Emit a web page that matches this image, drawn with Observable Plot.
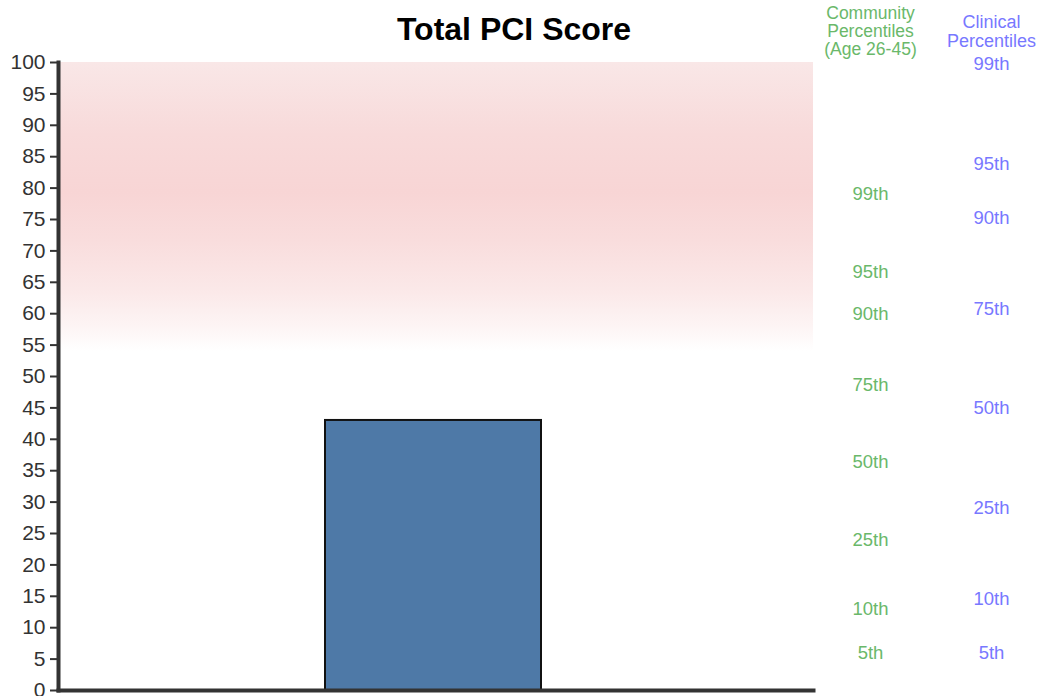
<!DOCTYPE html>
<html>
<head>
<meta charset="utf-8">
<script src="https://cdn.jsdelivr.net/npm/d3@7"></script>
<script src="https://cdn.jsdelivr.net/npm/@observablehq/plot@0.6"></script>
<style>
  html, body { margin: 0; padding: 0; background: #fff; }
  #chart svg { display: block; }
</style>
</head>
<body>
<div id="chart"></div>
<script>
// ---- data ----
const chartTitle = "Total PCI Score";
const categories = ["Total PCI Score"];
const scores = [43];
const yTicks = [0, 5, 10, 15, 20, 25, 30, 35, 40, 45, 50, 55, 60, 65, 70, 75, 80, 85, 90, 95, 100];

const communityHeader = "Community\nPercentiles\n(Age 26-45)";
const communityLabels = ["5th", "10th", "25th", "50th", "75th", "90th", "95th", "99th"];
const communityScores = [6, 13, 24, 36.3, 48.7, 60, 66.6, 79.1];

const clinicalHeader = "Clinical\nPercentiles";
const clinicalLabels = ["5th", "10th", "25th", "50th", "75th", "90th", "95th", "99th"];
const clinicalScores = [5.9, 14.5, 29, 44.9, 60.8, 75.3, 83.9, 99.8];

const zoneFrom = [54];
const zoneTo = [100];

// ---- tables ----
const bars = categories.map((c, i) => ({category: c, score: scores[i]}));
const community = communityLabels.map((l, i) => ({label: l, score: communityScores[i]}));
const clinical = clinicalLabels.map((l, i) => ({label: l, score: clinicalScores[i]}));
const zone = zoneFrom.map((f, i) => ({from: f, to: zoneTo[i]}));

const green = "#6ab86a";
const blue = "#7878ff";

const plot = Plot.plot({
  width: 1041,
  height: 696,
  marginLeft: 58,
  marginRight: 228,
  marginTop: 62,
  marginBottom: 6,
  style: {fontFamily: "'Liberation Sans', Arial, sans-serif", color: "#333", background: "#fff"},
  x: {type: "band", domain: categories, padding: 0.555, align: 0.495, axis: null},
  y: {domain: [0, 100], axis: null},
  marks: [
    Plot.rectY(zone, {y1: "from", y2: "to", fill: "url(#zoneGrad)"}),
    Plot.barY(bars, {x: "category", y: "score", fill: "#4e79a7", stroke: "#111", strokeWidth: 2}),
    Plot.axisY({ticks: yTicks, tickSize: 8, tickPadding: 5, fontSize: 21, label: null, stroke: "#333", strokeWidth: 2}),
    Plot.frame({anchor: "left", stroke: "#333", strokeWidth: 4}),
    Plot.frame({anchor: "bottom", stroke: "#333", strokeWidth: 4}),
    Plot.text(community, {y: "score", text: "label", frameAnchor: "right", dx: 57, textAnchor: "middle", fill: green, fontSize: 18.5}),
    Plot.text(clinical, {y: "score", text: "label", frameAnchor: "right", dx: 178, textAnchor: "middle", fill: blue, fontSize: 18.5}),
    Plot.text([communityHeader], {text: d => d, frameAnchor: "top-right", dx: 57, dy: -31, lineAnchor: "middle", fill: green, fontSize: 17.5, lineHeight: 1.03, textAnchor: "middle"}),
    Plot.text([clinicalHeader], {text: d => d, frameAnchor: "top-right", dx: 178, dy: -31, lineAnchor: "middle", fill: blue, fontSize: 18, lineHeight: 1.06, textAnchor: "middle"}),
    Plot.text([chartTitle], {text: d => d, frameAnchor: "top", dx: 78, dy: -33, lineAnchor: "middle", fontSize: 32, fontWeight: "bold", fill: "#000"})
  ]
});

// gradient definition for the shaded zone
const svg = d3.select(plot.tagName.toLowerCase() === "svg" ? plot : plot.querySelector("svg"));
const grad = svg.insert("defs", ":first-child")
  .append("linearGradient")
  .attr("id", "zoneGrad")
  .attr("x1", 0).attr("y1", 0).attr("x2", 0).attr("y2", 1);
[[0, "#f9e7e7"], [0.25, "#f8dada"], [0.45, "#f8d5d5"], [0.62, "#f9dddd"], [0.8, "#fbe9e9"], [0.92, "#fdf5f5"], [1, "#ffffff"]]
  .forEach(([o, c]) => grad.append("stop").attr("offset", o).attr("stop-color", c));

document.getElementById("chart").append(plot);
</script>
</body>
</html>
